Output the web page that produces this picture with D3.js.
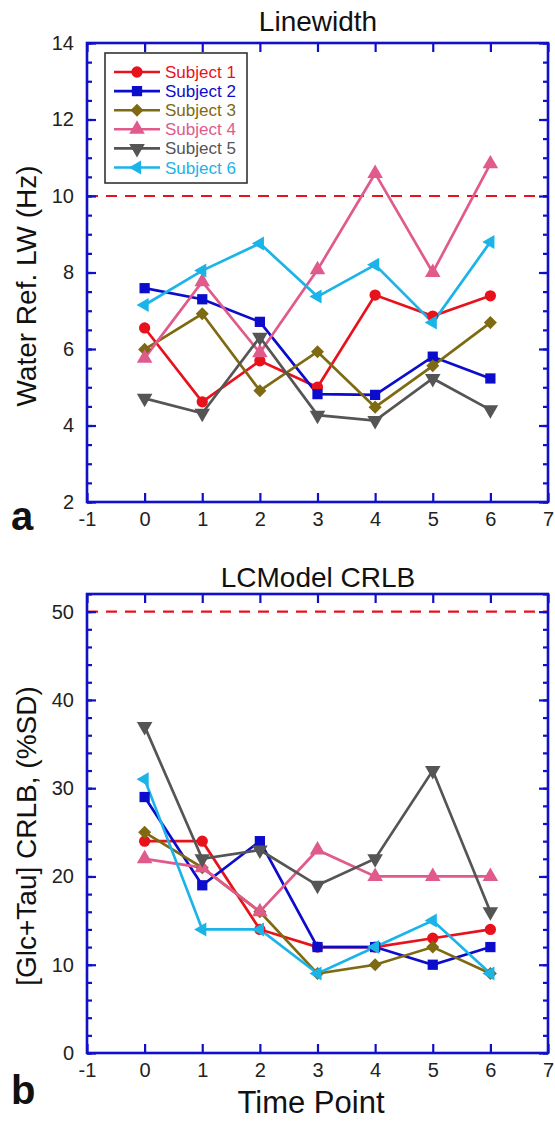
<!DOCTYPE html>
<html>
<head>
<meta charset="utf-8">
<script src="https://cdn.jsdelivr.net/npm/d3@7"></script>
<style>
  html, body { margin: 0; padding: 0; background: #fff; }
  svg { display: block; font-family: "Liberation Sans", Arial, sans-serif; }
</style>
</head>
<body>
<svg id="chart" width="555" height="1121"></svg>
<script>
// ---------- data ----------
const timePoints = [0, 1, 2, 3, 4, 5, 6];
const subjects = ["Subject 1", "Subject 2", "Subject 3", "Subject 4", "Subject 5", "Subject 6"];
const colors = ["#e8121c", "#0c0ccc", "#7d6a12", "#e05a8c", "#555555", "#1ab4e8"];
const markers = ["circle", "square", "diamond", "triangleUp", "triangleDown", "triangleLeft"];

// Panel a: water reference linewidth (Hz)
const lw_s1 = [6.55, 4.62, 5.69, 5.0, 7.41, 6.86, 7.39];
const lw_s2 = [7.59, 7.30, 6.71, 4.82, 4.80, 5.80, 5.23];
const lw_s3 = [5.99, 6.92, 4.91, 5.93, 4.48, 5.56, 6.69];
const lw_s4 = [5.76, 7.76, 5.90, 8.07, 10.59, 8.00, 10.84];
const lw_s5 = [4.71, 4.32, 6.31, 4.27, 4.13, 5.23, 4.41];
const lw_s6 = [7.15, 8.05, 8.76, 7.37, 8.20, 6.69, 8.80];
const lwThreshold = 10;

// Panel b: [Glc+Tau] CRLB (%SD)
const cr_s1 = [24, 24, 14, 12, 12, 13, 14];
const cr_s2 = [29, 19, 24, 12, 12, 10, 12];
const cr_s3 = [25, 21, 16, 9, 10, 12, 9];
const cr_s4 = [22, 21, 16, 23, 20, 20, 20];
const cr_s5 = [37, 22, 23, 19, 22, 32, 16];
const cr_s6 = [31, 14, 14, 9, 12, 15, 9];
const crThreshold = 50;

const xTicks = [-1, 0, 1, 2, 3, 4, 5, 6, 7];
const lwTicks = [2, 4, 6, 8, 10, 12, 14];
const crTicks = [0, 10, 20, 30, 40, 50];

// ---------- drawing ----------
const svg = d3.select("#chart");
const AXIS = "#1010c8";
const X0 = 87, X1 = 548;
const fmt = d => String(d);

const symbolFor = {
  circle: { type: d3.symbolCircle, size: 100, rot: 0 },
  square: { type: d3.symbolSquare, size: 105, rot: 0 },
  diamond: { type: d3.symbolSquare, size: 85, rot: 45 },
  triangleUp: { type: d3.symbolTriangle, size: 105, rot: 0 },
  triangleDown: { type: d3.symbolTriangle, size: 105, rot: 180 },
  triangleLeft: { type: d3.symbolTriangle, size: 85, rot: -90 }
};

function drawMarker(g, kind, x, y, color) {
  const s = symbolFor[kind];
  g.append("path")
    .attr("d", d3.symbol().type(s.type).size(s.size)())
    .attr("transform", `translate(${x},${y}) rotate(${s.rot})`)
    .attr("fill", color);
}

function drawPanel(cfg) {
  const x = d3.scaleLinear().domain([-1, 7]).range([X0, X1]);
  const y = d3.scaleLinear().domain(cfg.yDomain).range([cfg.bottom, cfg.top]);
  const g = svg.append("g");

  g.append("text").attr("x", 318).attr("y", cfg.titleY)
    .attr("text-anchor", "middle").attr("font-size", 28).attr("fill", "#111")
    .text(cfg.title);

  g.append("line")
    .attr("x1", x(-1)).attr("x2", x(7))
    .attr("y1", y(cfg.threshold)).attr("y2", y(cfg.threshold))
    .attr("stroke", "#e8121c").attr("stroke-width", 2.2)
    .attr("stroke-dasharray", "11,8");

  const minorY = d3.range(cfg.yDomain[0], cfg.yDomain[1] + 1e-9, cfg.minorStep);
  const styleAxis = sel => {
    sel.select(".domain").remove();
    sel.selectAll(".tick line").attr("stroke", AXIS).attr("stroke-width", 2.2);
    sel.selectAll(".tick text").attr("font-size", 20).attr("fill", "#222")
      .attr("font-family", "Liberation Sans, Arial, sans-serif");
  };
  g.append("g").attr("transform", `translate(${X0},0)`)
    .call(d3.axisLeft(y).tickValues(minorY).tickSize(-5).tickFormat(""))
    .call(styleAxis);
  g.append("g").attr("transform", `translate(${X1},0)`)
    .call(d3.axisRight(y).tickValues(minorY).tickSize(-5).tickFormat(""))
    .call(styleAxis);
  g.append("g").attr("transform", `translate(${X0},0)`)
    .call(d3.axisLeft(y).tickValues(cfg.yTicks).tickSize(-9).tickPadding(13).tickFormat(fmt))
    .call(styleAxis);
  g.append("g").attr("transform", `translate(${X1},0)`)
    .call(d3.axisRight(y).tickValues(cfg.yTicks).tickSize(-9).tickFormat(""))
    .call(styleAxis);
  g.append("g").attr("transform", `translate(0,${cfg.bottom})`)
    .call(d3.axisBottom(x).tickValues(xTicks).tickSize(-9).tickPadding(10).tickFormat(fmt))
    .call(styleAxis);
  g.append("g").attr("transform", `translate(0,${cfg.top})`)
    .call(d3.axisTop(x).tickValues(xTicks).tickSize(-9).tickFormat(""))
    .call(styleAxis);
  g.append("rect")
    .attr("x", X0).attr("y", cfg.top)
    .attr("width", X1 - X0).attr("height", cfg.bottom - cfg.top)
    .attr("fill", "none").attr("stroke", AXIS).attr("stroke-width", 2.6);

  g.append("text")
    .attr("transform", `translate(${cfg.yLabelX},${cfg.yLabelY}) rotate(-90)`)
    .attr("text-anchor", "middle").attr("font-size", 28).attr("fill", "#111")
    .text(cfg.yLabel);

  g.append("text").attr("x", 11).attr("y", cfg.letterY)
    .attr("font-size", 40).attr("font-weight", "bold").attr("fill", "#111")
    .text(cfg.letter);

  const line = d3.line().x((d, i) => x(timePoints[i])).y(d => y(d));
  cfg.series.forEach((vals, si) => {
    g.append("path").datum(vals).attr("d", line)
      .attr("fill", "none").attr("stroke", colors[si]).attr("stroke-width", 2.7)
      .attr("stroke-linejoin", "miter");
  });
  cfg.series.forEach((vals, si) => {
    vals.forEach((v, i) => drawMarker(g, markers[si], x(timePoints[i]), y(v), colors[si]));
  });
  return { x, y, g };
}

drawPanel({
  title: "Linewidth", titleY: 31,
  top: 43, bottom: 502, yDomain: [2, 14], yTicks: lwTicks, minorStep: 0.5,
  threshold: lwThreshold,
  yLabel: "Water Ref. LW (Hz)", yLabelX: 36, yLabelY: 286,
  letter: "a", letterY: 530,
  series: [lw_s1, lw_s2, lw_s3, lw_s4, lw_s5, lw_s6]
});

drawPanel({
  title: "LCModel CRLB", titleY: 587,
  top: 594, bottom: 1053, yDomain: [0, 52], yTicks: crTicks, minorStep: 2,
  threshold: crThreshold,
  yLabel: "[Glc+Tau] CRLB, (%SD)", yLabelX: 36, yLabelY: 836,
  letter: "b", letterY: 1104,
  series: [cr_s1, cr_s2, cr_s3, cr_s4, cr_s5, cr_s6]
});

svg.append("text").attr("x", 311).attr("y", 1113)
  .attr("text-anchor", "middle").attr("font-size", 31).attr("fill", "#111")
  .text("Time Point");

const leg = svg.append("g");
leg.append("rect").attr("x", 105).attr("y", 53).attr("width", 142).attr("height", 130)
  .attr("fill", "#fff").attr("stroke", "#333").attr("stroke-width", 1.6);
subjects.forEach((name, i) => {
  const yy = 72 + i * 19.1;
  leg.append("line").attr("x1", 114).attr("x2", 160).attr("y1", yy).attr("y2", yy)
    .attr("stroke", colors[i]).attr("stroke-width", 2.6);
  drawMarker(leg, markers[i], 137, yy, colors[i]);
  leg.append("text").attr("x", 165).attr("y", yy + 6)
    .attr("font-size", 17).attr("fill", colors[i]).text(name);
});
</script>
</body>
</html>
